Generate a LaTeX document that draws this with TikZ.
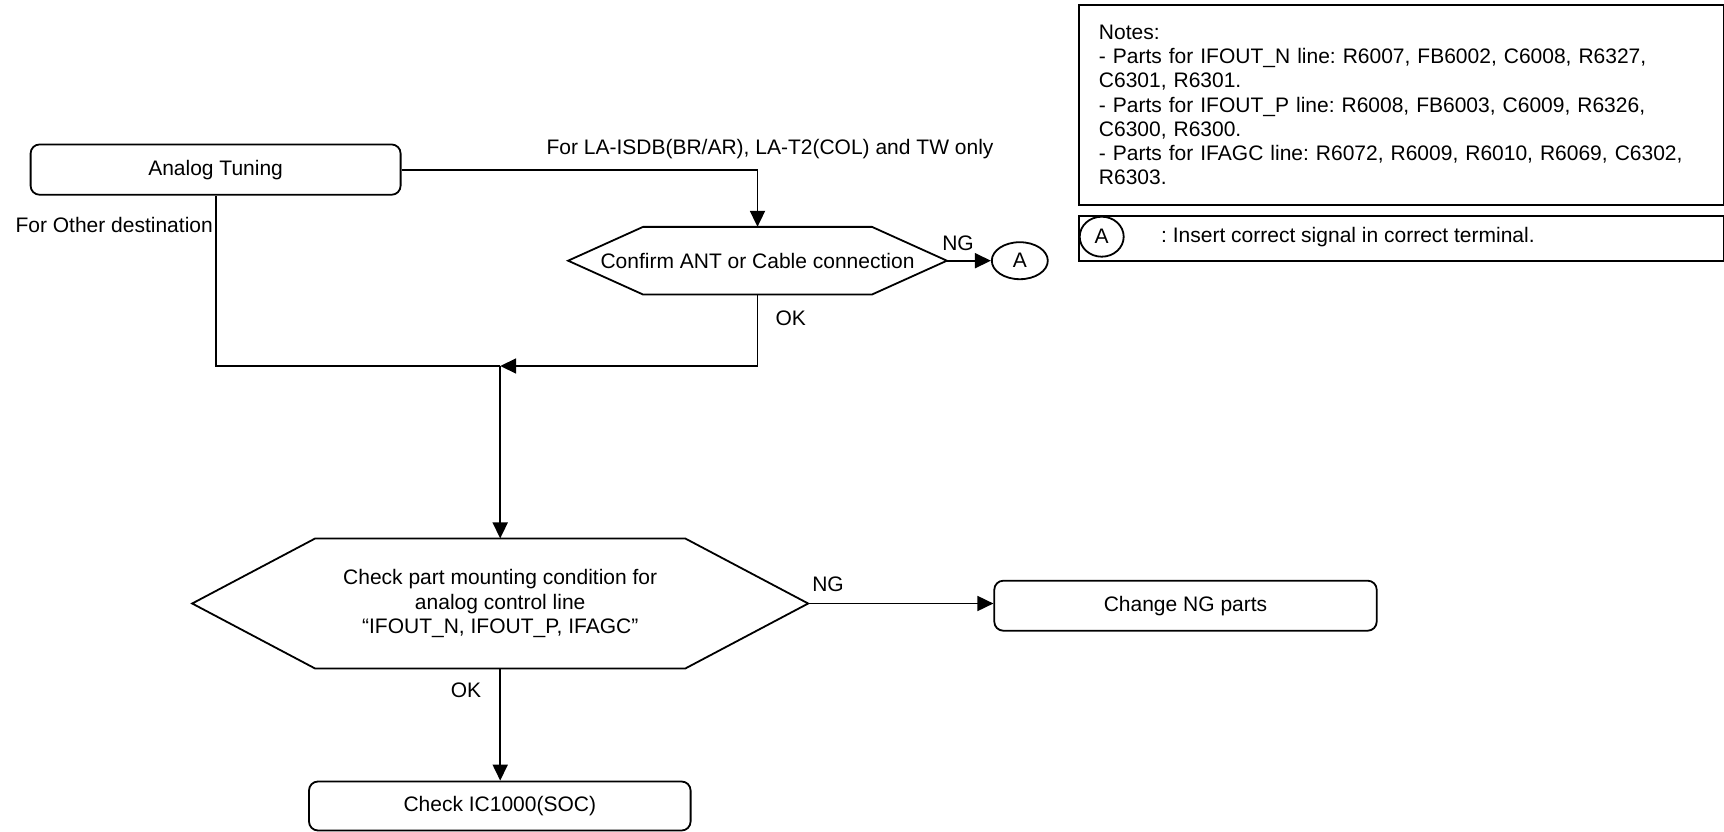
\documentclass[tikz,border=0pt]{standalone}
\usepackage{fontspec}
\setmainfont{Liberation Sans}
\usetikzlibrary{arrows.meta,shapes.geometric}
\frenchspacing
\begin{document}
\begin{tikzpicture}[x=1pt,y=-1pt,
  every node/.style={font=\fontsize{21}{24.2}\selectfont, inner sep=0pt},
  line/.style={line width=1.8pt},
  arr/.style={line width=1.8pt, -{Triangle[length=16pt,width=15pt]}},
  pbox/.style={draw, line width=1.8pt, rounded corners=9pt, align=center},
  hexn/.style={align=center},
  circ/.style={draw, ellipse, line width=1.8pt},
  frame/.style={draw, line width=1.8pt, anchor=north west}
]
\useasboundingbox (0,0) rectangle (1724,832);

% process boxes
\node[pbox, minimum width=370pt, minimum height=50.3pt] (tune) at (215.6,169.6) {Analog Tuning};
\node[pbox, minimum width=382.4pt, minimum height=50pt] (chg) at (1185.5,605.7) {Change NG parts};
\node[pbox, minimum width=381.6pt, minimum height=49pt] (soc) at (499.8,806) {Check IC1000(SOC)};

% decision 1
\node[hexn, minimum width=378.4pt, minimum height=67.3pt] (h1) at (757.5,260.7) {Confirm ANT or Cable connection};
\draw[line] (h1.west) -- ([xshift=75pt]h1.north west) -- ([xshift=-75pt]h1.north east) -- (h1.east)
  -- ([xshift=-75pt]h1.south east) -- ([xshift=75pt]h1.south west) -- cycle;

% decision 2
\node[hexn, minimum width=615.6pt, minimum height=129.7pt] (h2) at (500.2,603.5)
  {Check part mounting condition for\\analog control line\\“IFOUT\_N, IFOUT\_P, IFAGC”};
\draw[line] (h2.west) -- ([xshift=123pt]h2.north west) -- ([xshift=-123pt]h2.north east) -- (h2.east)
  -- ([xshift=-123pt]h2.south east) -- ([xshift=123pt]h2.south west) -- cycle;

% connector A
\node[circ, minimum width=56pt, minimum height=37pt] (A) at (1019.8,260.7) {A};

% connectors
\coordinate (j) at (500.2,366);
\draw[arr] (tune.east) -| (h1.north);
\node (lat) at (770,149) {For LA-ISDB(BR/AR), LA-T2(COL) and TW only};
\draw[arr] (h1.east) -- (A.west);
\node (ng1) at (958,243) {NG};
\draw[arr] (h1.south) |- (j);
\node (ok1) at (790.7,318) {OK};
\draw[line] (tune.south) |- (j);
\node[anchor=east] (oth) at (213,225) {For Other destination};
\draw[arr] (j) -- (h2.north);
\draw[arr] (h2.east) -- (h2.east -| chg.west);
\node (ng2) at (828,584) {NG};
\draw[arr] (h2.south) -- (h2.south |- soc.north);
\node (ok2) at (466,690.5) {OK};

% notes
\node[frame, minimum width=645.3pt, minimum height=200.4pt, text width=605pt, inner xsep=20.3pt, align=left] (notes) at (1077.7,3.8)
  {Notes:\\
  - Parts for IFOUT\_N line: R6007, FB6002, C6008, R6327,\\
  C6301, R6301.\\
  - Parts for IFOUT\_P line: R6008, FB6003, C6009, R6326,\\
  C6300, R6300.\\
  - Parts for IFAGC line: R6072, R6009, R6010, R6069, C6302,\\
  R6303.};

% legend
\node[frame, minimum width=645.3pt, minimum height=45pt] (leg) at (1077.7,215.3) {};
\node[circ, minimum width=44pt, minimum height=40pt] (la) at (1101.7,236.7) {A};
\node[anchor=west] (legt) at (1161,237.5) {: Insert correct signal in correct terminal.};
\end{tikzpicture}
\end{document}
